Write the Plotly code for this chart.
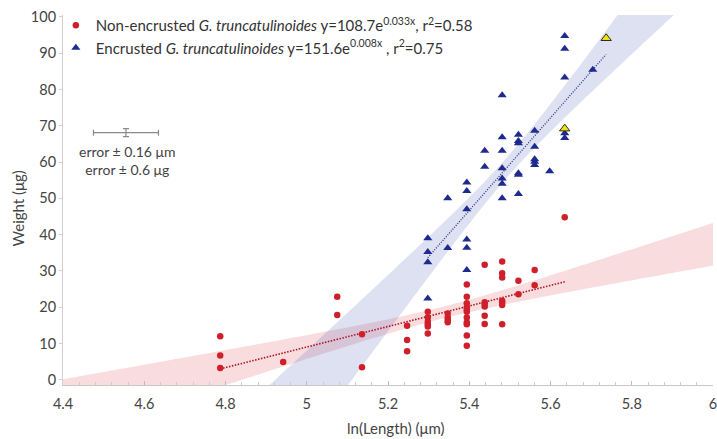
import numpy as np
import plotly.graph_objects as go

# ---------------- data ----------------
red_x = [4.787, 4.787, 4.787, 4.942, 5.075, 5.075, 5.136, 5.136,
         5.247, 5.247, 5.247,
         5.298, 5.298, 5.298, 5.298, 5.298, 5.298,
         5.347, 5.347, 5.347, 5.347,
         5.394, 5.394, 5.394, 5.394, 5.394, 5.394, 5.394, 5.394, 5.394, 5.394, 5.394,
         5.438, 5.438, 5.438, 5.438, 5.438, 5.438,
         5.481, 5.481, 5.481, 5.481, 5.481, 5.481, 5.481,
         5.521, 5.521, 5.561, 5.561, 5.635]
red_y = [12.0, 6.7, 3.3, 4.9, 22.9, 17.9, 12.6, 3.5,
         14.9, 11.0, 7.9,
         18.8, 17.2, 16.0, 15.3, 14.7, 12.8,
         18.3, 17.2, 16.5, 15.9,
         26.3, 22.9, 21.1, 20.0, 19.3, 18.8, 17.2, 15.8, 15.3, 12.2, 9.4,
         31.7, 21.4, 20.9, 20.2, 17.7, 15.4,
         32.6, 29.4, 28.2, 21.8, 21.3, 20.6, 15.3,
         27.3, 23.6, 30.3, 26.1, 44.8]

blue_x = [5.298, 5.298, 5.298, 5.298,
          5.347, 5.347,
          5.394, 5.394, 5.394, 5.394, 5.394, 5.394,
          5.438, 5.438,
          5.481, 5.481, 5.481, 5.481, 5.481, 5.481, 5.481,
          5.521, 5.521, 5.521, 5.521, 5.521, 5.521,
          5.561, 5.561, 5.561, 5.561, 5.561,
          5.598,
          5.635, 5.635, 5.635, 5.635, 5.635,
          5.704]
blue_y = [39.0, 35.2, 32.4, 22.4,
          50.0, 36.3,
          54.4, 52.0, 47.0, 38.7, 36.4, 30.3,
          63.1, 58.7,
          78.4, 66.8, 63.1, 58.3, 55.5, 54.0, 50.0,
          67.5, 65.8, 65.2, 56.9, 56.5, 51.2,
          68.6, 64.2, 60.8, 60.1, 59.2,
          57.5,
          94.7, 91.2, 83.3, 67.9, 66.6,
          85.4]

# highlighted (yellow) encrusted specimens
yellow_x = [5.635, 5.737]
yellow_y = [69.2, 94.1]

# measurement-error indicator
err_center_x = [4.555]
err_center_y = [68.1]
err_half_x = [0.08]
err_half_y = [1.1]

x_tick_vals = [4.4, 4.6, 4.8, 5.0, 5.2, 5.4, 5.6, 5.8, 6.0]
x_tick_text = ["4.4", "4.6", "4.8", "5", "5.2", "5.4", "5.6", "5.8", "6"]
y_tick_vals = [0, 10, 20, 30, 40, 50, 60, 70, 80, 90, 100]

T_CRIT = 2.01  # ~95 % two-sided t value

RED = "#cf1f2b"
BLUE = "#1f2a8e"
FONT = "Lato"


def fit_with_band(xs, ys, x_lo, x_hi):
    xs = np.asarray(xs, float)
    ys = np.asarray(ys, float)
    n = len(xs)
    b, a = np.polyfit(xs, ys, 1)
    resid = ys - (a + b * xs)
    s = np.sqrt(np.sum(resid ** 2) / (n - 2))
    xm = xs.mean()
    sxx = np.sum((xs - xm) ** 2)
    xl = np.linspace(xs.min(), xs.max(), 50)
    yl = a + b * xl
    xb = np.linspace(x_lo, x_hi, 200)
    yb = a + b * xb
    hw = T_CRIT * s * np.sqrt(1.0 / n + (xb - xm) ** 2 / sxx)
    return xl, yl, xb, yb - hw, yb + hw


fig = go.Figure()

all_blue_x = blue_x + yellow_x
all_blue_y = blue_y + yellow_y

bands = [
    (red_x, red_y, "rgba(220,80,90,0.2)", "#b01420", 1.6, "1.5px,1.5px"),
    (all_blue_x, all_blue_y, "rgba(100,120,190,0.22)", "#27328c", 1.3, "1px,1.5px"),
]
fits = []
for xs, ys, fillc, linec, lw, dash in bands:
    xl, yl, xb, lo, hi = fit_with_band(xs, ys, 4.4, 6.0)
    fits.append((xl, yl, linec, lw, dash))
    fig.add_trace(go.Scatter(
        x=np.concatenate([xb, xb[::-1]]),
        y=np.concatenate([hi, lo[::-1]]),
        fill="toself", fillcolor=fillc, mode="none",
        hoverinfo="skip", showlegend=False))

for xl, yl, linec, lw, dash in fits:
    fig.add_trace(go.Scatter(
        x=xl, y=yl, mode="lines",
        line=dict(color=linec, width=lw, dash=dash),
        hoverinfo="skip", showlegend=False))

fig.add_trace(go.Scatter(
    x=red_x, y=red_y, mode="markers",
    marker=dict(symbol="circle", size=6.5, color=RED),
    name="Non-encrusted <i>G. truncatulinoides</i> y=108.7e<sup>0.033x</sup>, r<sup>2</sup>=0.58"))

fig.add_trace(go.Scatter(
    x=blue_x, y=blue_y, mode="markers",
    marker=dict(symbol="triangle-up", size=8, color=BLUE),
    name="Encrusted <i>G. truncatulinoides</i> y=151.6e<sup>0.008x</sup> , r<sup>2</sup>=0.75"))

fig.add_trace(go.Scatter(
    x=yellow_x, y=yellow_y, mode="markers",
    marker=dict(symbol="triangle-up", size=9, color="#f2e400",
                line=dict(color="#2a2a2a", width=1)),
    showlegend=False))

fig.add_trace(go.Scatter(
    x=err_center_x, y=err_center_y, mode="markers",
    marker=dict(size=1, color="rgba(0,0,0,0)"),
    error_x=dict(type="data", array=err_half_x, color="#8a8a8a", thickness=1.2, width=3),
    error_y=dict(type="data", array=err_half_y, color="#8a8a8a", thickness=1.2, width=3),
    hoverinfo="skip", showlegend=False))

fig.add_annotation(
    x=4.5585, y=60.3, xref="x", yref="y",
    xanchor="center", yanchor="middle",
    text="error ± 0.16 μm<br>error ± 0.6 μg",
    showarrow=False, align="center",
    font=dict(family=FONT, size=14, color="#444"))

fig.add_annotation(
    x=-0.0688, y=0.478, xref="paper", yref="paper",
    xanchor="center", yanchor="middle",
    text="Weight (μg)", textangle=-90, showarrow=False,
    font=dict(family=FONT, size=15, color="#444"))

fig.add_annotation(
    x=0.512, y=-0.116, xref="paper", yref="paper",
    xanchor="center", yanchor="middle",
    text="ln(Length) (μm)", showarrow=False,
    font=dict(family=FONT, size=15, color="#444"))

fig.update_layout(
    width=717, height=439,
    margin=dict(l=63, r=0, t=15, b=54),
    paper_bgcolor="white", plot_bgcolor="white",
    font=dict(family=FONT, size=14, color="#444"),
    legend=dict(x=-0.011, y=1.016, xanchor="left", yanchor="top",
                bgcolor="rgba(0,0,0,0)", tracegroupgap=0,
                font=dict(family=FONT, size=15, color="#333")),
    xaxis=dict(range=[4.4, 6.0], tickvals=x_tick_vals, ticktext=x_tick_text,
               showgrid=False, zeroline=False, showline=True,
               linecolor="#c8c8c8", linewidth=1,
               ticks="inside", ticklen=4, tickcolor="#bdbdbd",
               ticklabeloverflow="allow", ticklabelstandoff=6,
               minor=dict(ticks="inside", ticklen=3, tick0=4.4, dtick=0.04,
                          tickcolor="#cccccc", showgrid=False),
               tickfont=dict(family=FONT, size=14.5, color="#444")),
    yaxis=dict(range=[-1.4, 100.5], tickvals=y_tick_vals,
               showgrid=False, zeroline=False, showline=True,
               linecolor="#d0d0d0", linewidth=1,
               ticks="outside", ticklen=3, tickcolor="#d0d0d0",
               tickfont=dict(family=FONT, size=14.5, color="#444")),
)

fig.write_html("out.html")
